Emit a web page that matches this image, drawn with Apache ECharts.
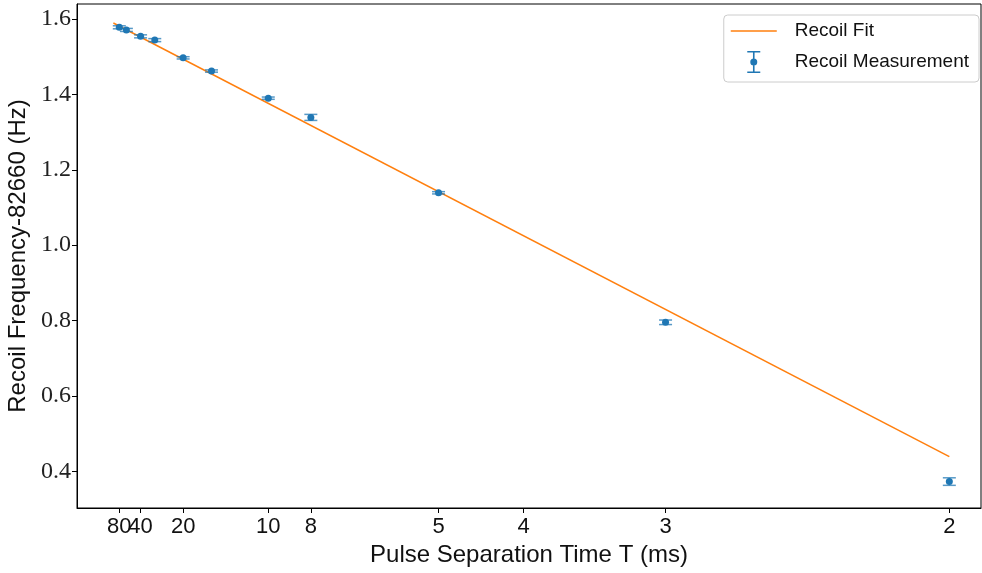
<!DOCTYPE html>
<html>
<head>
<meta charset="utf-8">
<script src="https://cdn.jsdelivr.net/npm/echarts@6/dist/echarts.min.js"></script>
<style>
  html, body { margin: 0; padding: 0; background: #fff; }
  #chart { width: 982px; height: 573px; }
</style>
</head>
<body>
<div id="chart"></div>
<script>
// Pulse separation times T (ms) and measured recoil frequency offsets (Hz)
const periods = [80, 60, 40, 30, 20, 15, 10, 8, 5, 3, 2];
const recoil = [1.578, 1.571, 1.554, 1.544, 1.497, 1.462, 1.390, 1.339, 1.139, 0.7955, 0.373];
const recoilErr = [0.004, 0.004, 0.004, 0.004, 0.003, 0.003, 0.003, 0.008, 0.003, 0.006, 0.010];

// Linear fit in 1/T, drawn between its two end points
const fitPeriods = [111, 2];
const fitValues = [1.5894, 0.439];

// Tick marks
const tickPeriods = [80, 40, 20, 10, 8, 5, 4, 3, 2];
const yTicks = [0.4, 0.6, 0.8, 1.0, 1.2, 1.4, 1.6];

const SANS = "'Liberation Sans', sans-serif";
const SERIF = "'Liberation Serif', serif";
const BLUE = '#1f77b4';
const ORANGE = '#ff7f0e';

const inv = t => 1 / t;
const X_MIN = -0.01234;
const X_MAX = 0.5186;

const pointData = periods.map((t, i) => [inv(t), recoil[i]]);
const errData = periods.map((t, i) => [inv(t), recoil[i] - recoilErr[i], recoil[i] + recoilErr[i]]);
const fitData = fitPeriods.map((t, i) => [inv(t), fitValues[i]]);

// The 80 and 40 ms labels touch each other, so ticks are split over two
// overlaid bottom axes to keep every label visible.
const ticksA = tickPeriods.filter((_, i) => i % 2 === 0).map(inv);
const ticksB = tickPeriods.filter((_, i) => i % 2 === 1).map(inv);

function xAxisFor(ticks, primary) {
  return {
    type: 'value',
    position: 'bottom',
    offset: 0,
    min: X_MIN,
    max: X_MAX,
    name: primary ? 'Pulse Separation Time T (ms)' : '',
    nameLocation: 'middle',
    nameGap: 31,
    nameTextStyle: { fontFamily: SANS, fontSize: 24, color: '#111' },
    axisLine: { show: primary, onZero: false, lineStyle: { color: '#000', width: 1 } },
    axisTick: { show: true, inside: false, length: 5, lineStyle: { color: '#000' }, customValues: ticks },
    axisLabel: {
      show: true,
      interval: 0,
      hideOverlap: false,
      showMinLabel: true,
      showMaxLabel: true,
      margin: 8,
      fontFamily: SANS, fontSize: 22, color: '#111',
      customValues: ticks,
      formatter: v => String(Math.round(1 / v))
    },
    splitLine: { show: false }
  };
}

const chart = echarts.init(document.getElementById('chart'), null, { renderer: 'canvas' });

chart.setOption({
  animation: false,
  backgroundColor: '#fff',
  grid: {
    left: 77, right: 1, top: 4, bottom: 65,
    outerBoundsMode: 'none',
    containLabel: false,
    show: true, borderColor: '#000', borderWidth: 1, backgroundColor: 'transparent'
  },
  legend: {
    orient: 'vertical',
    right: 3, top: 15,
    padding: [5, 10, 9, 7],
    itemGap: 9,
    itemWidth: 46,
    itemHeight: 22,
    borderColor: '#cccccc',
    borderWidth: 1,
    borderRadius: 4,
    backgroundColor: 'rgba(255,255,255,0.8)',
    textStyle: { fontFamily: SANS, fontSize: 19, color: '#111', lineHeight: 22, padding: [0, 0, 0, 13] },
    data: [
      {
        name: 'Recoil Fit',
        icon: 'path://M0,0H46V1.6H0Z',
        itemStyle: { color: ORANGE }
      },
      {
        name: 'Recoil Measurement',
        icon: 'path://M0,0H13V1.6H0Z M5.7,0H7.3V22H5.7Z M0,20.4H13V22H0Z M3,11A3.5,3.5 0 1 1 10,11A3.5,3.5 0 1 1 3,11Z',
        itemStyle: { color: BLUE }
      }
    ]
  },
  xAxis: [xAxisFor(ticksA, true), xAxisFor(ticksB, false)],
  yAxis: {
    type: 'value',
    min: 0.3029,
    max: 1.6398,
    name: 'Recoil Frequency-82660 (Hz)',
    nameLocation: 'middle',
    nameGap: 40,
    nameTextStyle: { fontFamily: SANS, fontSize: 24, color: '#111' },
    axisLine: { show: true, onZero: false, lineStyle: { color: '#000', width: 1 } },
    axisTick: { show: true, inside: false, length: 5, lineStyle: { color: '#000' }, customValues: yTicks },
    axisLabel: {
      show: true,
      margin: 6,
      showMinLabel: true,
      showMaxLabel: true,
      fontFamily: SERIF, fontSize: 24, color: '#222',
      customValues: yTicks,
      formatter: v => v.toFixed(1)
    },
    splitLine: { show: false }
  },
  series: [
    {
      name: 'Recoil Fit',
      type: 'line',
      data: fitData,
      symbol: 'none',
      z: 2,
      lineStyle: { color: ORANGE, width: 1.5 },
      itemStyle: { color: ORANGE }
    },
    {
      name: 'Recoil Measurement',
      type: 'custom',
      data: errData,
      z: 3,
      encode: { x: 0, y: [1, 2] },
      renderItem: (params, api) => {
        const x = api.value(0);
        const lo = api.coord([x, api.value(1)]);
        const hi = api.coord([x, api.value(2)]);
        const cap = 6.5;
        const style = { stroke: 'rgba(31,119,180,0.75)', lineWidth: 1.5 };
        return {
          type: 'group',
          children: [
            { type: 'line', shape: { x1: lo[0], y1: lo[1], x2: hi[0], y2: hi[1] }, style },
            { type: 'line', shape: { x1: lo[0] - cap, y1: lo[1], x2: lo[0] + cap, y2: lo[1] }, style },
            { type: 'line', shape: { x1: hi[0] - cap, y1: hi[1], x2: hi[0] + cap, y2: hi[1] }, style }
          ]
        };
      }
    },
    {
      name: 'Recoil Measurement',
      type: 'scatter',
      data: pointData,
      symbol: 'circle',
      symbolSize: 7,
      z: 4,
      itemStyle: { color: BLUE, opacity: 1 }
    }
  ]
});
</script>
</body>
</html>
